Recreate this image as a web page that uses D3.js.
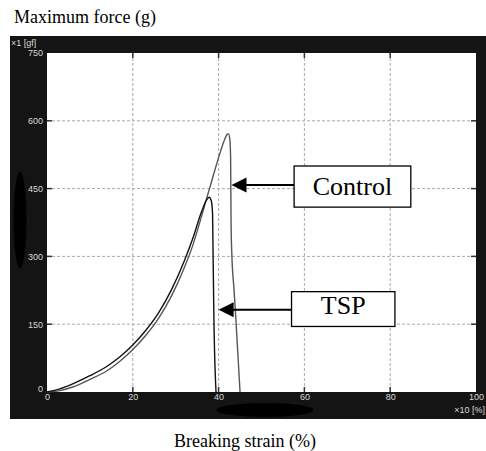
<!DOCTYPE html>
<html>
<head>
<meta charset="utf-8">
<script src="https://cdn.jsdelivr.net/npm/d3@7/dist/d3.min.js"></script>
<style>
  body { margin: 0; background: #fff; }
  svg { display: block; }
  .tick text { fill: #d8d8d8; font-family: "Liberation Sans", Arial, sans-serif; font-size: 9px; }
</style>
</head>
<body>
<script>
"use strict";

// tensile curves, x in (x10 %), y in gf
var tspStrain = [0, 3, 6, 10, 14, 17, 20, 23, 26, 29, 32, 34, 36, 37.2, 37.8, 38.3, 38.6, 38.7, 38.9, 39.4];
var tspForce  = [0, 7, 18, 36, 57, 78, 104, 136, 175, 226, 290, 340, 398, 425, 431, 423, 392, 314, 166, 0];

var controlStrain = [0, 3, 6, 10, 14, 17, 20, 23, 26, 29, 32, 34, 36, 37.2, 38.5, 39.5, 40.5, 41.5, 42.0, 42.3, 42.6, 42.8, 42.9, 43.05, 43.6, 44.0, 45.0];
var controlForce  = [0, 3, 11, 28, 47, 68, 94, 125, 163, 212, 275, 325, 388, 428, 470, 503, 534, 561, 570, 571, 560, 520, 380, 314, 226, 166, 0];

var xTicks = [0, 20, 40, 60, 80, 100];
var yTicks = [0, 150, 300, 450, 600, 750];

var labels = ["Control", "TSP"];
var labelTipX = [43.0, 40.0];
var labelTipY = [458, 182];
var boxX0 = [57.6, 57.0];
var boxX1 = [84.8, 81.1];
var boxY0 = [500, 222];
var boxY1 = [409, 145];

var width = 486, height = 451;

var svg = d3.select("body").append("svg")
    .attr("width", width)
    .attr("height", height);

var x = d3.scaleLinear().domain([0, 100]).range([47, 476]);
var y = d3.scaleLinear().domain([0, 750]).range([392, 53]);

// dark instrument panel
svg.append("rect")
    .attr("x", 10).attr("y", 36)
    .attr("width", 476).attr("height", 383)
    .attr("fill", "#141414");

svg.append("rect")
    .attr("x", x(0)).attr("y", y(750))
    .attr("width", x(100) - x(0)).attr("height", y(0) - y(750))
    .attr("fill", "#fff");

// grid
var inner = function (v, i, a) { return i > 0 && i < a.length - 1; };

svg.selectAll(".vgrid")
    .data(xTicks.filter(inner))
    .enter().append("line")
    .attr("class", "vgrid")
    .attr("x1", function (d) { return x(d); })
    .attr("x2", function (d) { return x(d); })
    .attr("y1", y(750)).attr("y2", y(0))
    .attr("stroke", "#aaa").attr("stroke-dasharray", "3,2");

svg.selectAll(".hgrid")
    .data(yTicks.filter(inner))
    .enter().append("line")
    .attr("class", "hgrid")
    .attr("y1", function (d) { return y(d); })
    .attr("y2", function (d) { return y(d); })
    .attr("x1", x(0)).attr("x2", x(100))
    .attr("stroke", "#aaa").attr("stroke-dasharray", "3,2");

// little inward ticks on all edges
var tickG = svg.append("g").attr("stroke", "#333").attr("stroke-width", 1.5);
xTicks.filter(inner).forEach(function (d) {
    tickG.append("line").attr("x1", x(d)).attr("x2", x(d)).attr("y1", y(750)).attr("y2", y(750) + 5);
    tickG.append("line").attr("x1", x(d)).attr("x2", x(d)).attr("y1", y(0)).attr("y2", y(0) - 5);
});
yTicks.filter(inner).forEach(function (d) {
    tickG.append("line").attr("y1", y(d)).attr("y2", y(d)).attr("x1", x(0)).attr("x2", x(0) + 5);
    tickG.append("line").attr("y1", y(d)).attr("y2", y(d)).attr("x1", x(100)).attr("x2", x(100) - 5);
});

// axes (labels only)
var yAxis = svg.append("g")
    .attr("transform", "translate(" + x(0) + ",0)")
    .call(d3.axisLeft(y).tickValues(yTicks).tickSize(0).tickPadding(4));
yAxis.select(".domain").remove();
yAxis.selectAll(".tick text").filter(function (d) { return d === 0; }).attr("dy", "-0.1em");

var xAxis = svg.append("g")
    .attr("transform", "translate(0," + y(0) + ")")
    .call(d3.axisBottom(x).tickValues(xTicks).tickSize(0).tickPadding(2));
xAxis.select(".domain").remove();

svg.append("text")
    .attr("x", 11).attr("y", 46)
    .attr("fill", "#d8d8d8")
    .style("font-family", "Liberation Sans, Arial, sans-serif")
    .style("font-size", "9px")
    .text("\u00d71 [gf]");

svg.append("text")
    .attr("x", 485).attr("y", 413)
    .attr("text-anchor", "end")
    .attr("fill", "#d8d8d8")
    .style("font-family", "Liberation Sans, Arial, sans-serif")
    .style("font-size", "9px")
    .text("\u00d710 [%]");

// curves
var line = d3.line()
    .x(function (d) { return x(d[0]); })
    .y(function (d) { return y(d[1]); })
    .curve(d3.curveMonotoneX);

svg.append("path")
    .datum(d3.zip(controlStrain, controlForce))
    .attr("d", line)
    .attr("fill", "none")
    .attr("stroke", "#555")
    .attr("stroke-width", 1.4);

svg.append("path")
    .datum(d3.zip(tspStrain, tspForce))
    .attr("d", line)
    .attr("fill", "none")
    .attr("stroke", "#111")
    .attr("stroke-width", 1.4);

// redaction blobs on the scan
svg.append("ellipse")
    .attr("cx", 20).attr("cy", 220).attr("rx", 6.5).attr("ry", 48.5)
    .attr("fill", "#000");
svg.append("ellipse")
    .attr("cx", 265).attr("cy", 410).attr("rx", 48.5).attr("ry", 7)
    .attr("fill", "#000");

// callouts
labels.forEach(function (lab, i) {
    var tipX = x(labelTipX[i]), tipY = y(labelTipY[i]);
    var bx0 = x(boxX0[i]), bx1 = x(boxX1[i]);
    var by0 = y(boxY0[i]), by1 = y(boxY1[i]);

    svg.append("line")
        .attr("x1", bx0).attr("y1", tipY)
        .attr("x2", tipX + 12).attr("y2", tipY)
        .attr("stroke", "#000").attr("stroke-width", 2);
    svg.append("path")
        .attr("d", "M" + tipX + "," + tipY + "L" + (tipX + 15) + "," + (tipY - 7.5) + "L" + (tipX + 15) + "," + (tipY + 7.5) + "Z")
        .attr("fill", "#000");

    svg.append("rect")
        .attr("x", bx0).attr("y", by0)
        .attr("width", bx1 - bx0).attr("height", by1 - by0)
        .attr("fill", "#fff").attr("stroke", "#000").attr("stroke-width", 1.3);
    svg.append("text")
        .attr("x", (bx0 + bx1) / 2).attr("y", by1 - 12)
        .attr("text-anchor", "middle")
        .style("font-family", "Liberation Serif, Times New Roman, serif")
        .style("font-size", "26px")
        .text(lab);
});

// titles
svg.append("text")
    .attr("x", 14).attr("y", 23)
    .style("font-family", "Liberation Serif, Times New Roman, serif")
    .style("font-size", "18px")
    .text("Maximum force (g)");

svg.append("text")
    .attr("x", 245).attr("y", 447)
    .attr("text-anchor", "middle")
    .style("font-family", "Liberation Serif, Times New Roman, serif")
    .style("font-size", "18px")
    .text("Breaking strain (%)");
</script>
</body>
</html>
